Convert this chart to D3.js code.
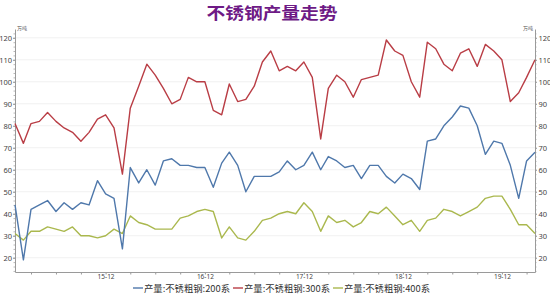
<!DOCTYPE html>
<html>
<head>
<meta charset="utf-8">
<script src="https://cdn.jsdelivr.net/npm/d3@7"></script>
<style>
  body { margin: 0; background: #fff; }
  svg text { font-family: "Noto Sans CJK SC", "Noto Sans", sans-serif; }
</style>
</head>
<body>
<div id="chart"></div>
<script>
// monthly, 2015-01 .. 2020-04
const startMonth = "2015-01";
const monthCount = 64;

const s200 = [44,19,42,44,46,41,45,42,45,44, 55,49,47,24,61,54,60,53,64,65,
              62,62,61,61,52,63,68,62,50,57, 57,57,59,64,60,62,68,60,66,64,
              61,62,56,62,62,57,54,58,56,51, 73,74,80,84,89,88,80,67,73,72,
              62,47,64,68];
const s300 = [81,72,81,82,86,82,79,77,73,77, 83,85,79,58,88,98,108,103,97,90,
              92,102,100,100,87,85,99,91,92,98, 109,114,105,107,105,109,102,74,97,103,
              100,93,101,102,103,119,114,112,100,93, 118,115,108,105,113,115,107,117,114,110,
              91,95,102,110];
const s400 = [31,28,32,32,34,33,32,34,30,30, 29,30,33,31,39,36,35,33,33,33,
              38,39,41,42,41,29,34,29,28,32, 37,38,40,41,40,45,41,32,39,36,
              37,34,36,41,40,43,39,35,37,32, 37,38,42,41,39,41,43,47,48,48,
              42,35,35,31];

const seriesNames = ["产量:不锈粗钢:200系", "产量:不锈粗钢:300系", "产量:不锈粗钢:400系"];
const seriesColors = ["#4f78ab", "#b93d45", "#aab84e"];
const yTicks = [20, 30, 40, 50, 60, 70, 80, 90, 100, 110, 120];
const unitLabel = "万吨";
const title = "不锈钢产量走势";

const W = 550, H = 296;
const plot = { left: 15, right: 535, top: 29, bottom: 272 };

const parse = d3.timeParse("%Y-%m");
const t0 = parse(startMonth);
const dates = d3.range(monthCount).map(i => d3.timeMonth.offset(t0, i));

const svg = d3.select("#chart").append("svg")
    .attr("width", W).attr("height", H);

const x = d3.scaleTime()
    .domain([dates[0], dates[dates.length - 1]])
    .range([plot.left, plot.right]);

const y = d3.scaleLinear()
    .domain([13.5, 124])
    .range([plot.bottom, plot.top]);

// title
svg.append("text")
    .attr("x", 272).attr("y", 18.5)
    .attr("text-anchor", "middle")
    .attr("textLength", 131)
    .attr("lengthAdjust", "spacingAndGlyphs")
    .style("font-size", "16px")
    .style("font-weight", "bold")
    .style("fill", "#6e1a86")
    .text(title);

// grid
svg.append("g")
    .selectAll("line")
    .data(yTicks)
    .enter().append("line")
    .attr("x1", plot.left).attr("x2", plot.right)
    .attr("y1", d => y(d)).attr("y2", d => y(d))
    .attr("stroke", "#f1f1f1")
    .attr("stroke-width", 1);

// y axes
const minor = d3.range(14, 124, 2);
function styleAxis(g) {
    g.select(".domain").attr("stroke", "#9a9a9a");
    g.selectAll(".tick line").attr("stroke", "#9a9a9a");
    g.selectAll("text").style("font-size", "7.5px").style("fill", "#444")
        .style("font-family", "'Noto Sans', sans-serif");
}

svg.append("g")
    .attr("transform", `translate(${plot.left},0)`)
    .call(d3.axisLeft(y).tickValues(minor).tickSize(1.5).tickFormat(""))
    .call(g => { g.select(".domain").remove(); g.selectAll("line").attr("stroke", "#b8b8b8"); });
svg.append("g")
    .attr("transform", `translate(${plot.right},0)`)
    .call(d3.axisRight(y).tickValues(minor).tickSize(1.5).tickFormat(""))
    .call(g => { g.select(".domain").remove(); g.selectAll("line").attr("stroke", "#b8b8b8"); });

svg.append("g")
    .attr("transform", `translate(${plot.left},0)`)
    .call(d3.axisLeft(y).tickValues(yTicks).tickSize(2).tickSizeOuter(0).tickPadding(1))
    .call(styleAxis);

svg.append("g")
    .attr("transform", `translate(${plot.right},0)`)
    .call(d3.axisRight(y).tickValues(yTicks).tickSize(2).tickSizeOuter(0).tickPadding(1.5))
    .call(styleAxis);

svg.append("text").attr("x", plot.left + 2).attr("y", plot.top + 1)
    .style("font-size", "5px").style("fill", "#555").text(unitLabel);
svg.append("text").attr("x", plot.right - 2).attr("y", plot.top + 1)
    .attr("text-anchor", "end")
    .style("font-size", "5px").style("fill", "#555").text(unitLabel);

// x axis
const xTicks = dates.filter(d => [2, 5, 8, 11].includes(d.getMonth()));
svg.append("g")
    .attr("transform", `translate(0,${plot.bottom})`)
    .call(d3.axisBottom(x).tickValues(xTicks).tickSize(2.5).tickSizeOuter(0).tickPadding(0)
        .tickFormat(d => d.getMonth() === 11 ? d3.timeFormat("%y-%m")(d) : ""))
    .call(g => {
        g.select(".domain").attr("stroke", "#9a9a9a");
        g.selectAll(".tick line").attr("stroke", "#9a9a9a");
        g.selectAll("text").style("font-size", "6.5px").style("fill", "#444")
            .style("font-family", "'Noto Sans', sans-serif");
    });

// lines
const allSeries = [s200, s300, s400];
const line = d3.line()
    .x((d, i) => x(dates[i]))
    .y(d => y(d));

// draw order: 400, 200, 300 on top
[2, 0, 1].forEach(k => {
    svg.append("path")
        .datum(allSeries[k])
        .attr("fill", "none")
        .attr("stroke", seriesColors[k])
        .attr("stroke-width", 1.4)
        .attr("stroke-linejoin", "round")
        .attr("d", line);
});

// legend: three items, each ~100px apart, text fitted to ~86px
const legend = svg.append("g").attr("transform", "translate(133,291.5)");
seriesNames.forEach((name, k) => {
    const g = legend.append("g").attr("transform", `translate(${k * 100},0)`);
    g.append("line")
        .attr("x1", 0).attr("x2", 10)
        .attr("y1", -3.5).attr("y2", -3.5)
        .attr("stroke", seriesColors[k]).attr("stroke-width", 1.4);
    const t = g.append("text")
        .attr("x", 11).attr("y", 0)
        .style("font-size", "9.5px").style("fill", "#333")
        .text(name);
    const w = t.node().getComputedTextLength();
    if (w > 86) t.style("font-size", (9.5 * 86 / w).toFixed(2) + "px");
});
</script>
</body>
</html>
